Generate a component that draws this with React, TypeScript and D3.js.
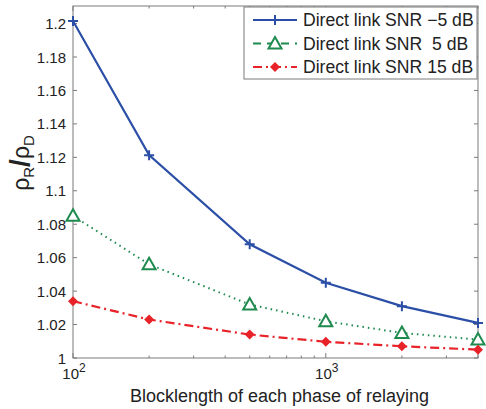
import React, { useEffect, useRef } from 'react';
import * as d3 from 'd3';

const blocklengths = [100, 200, 500, 1000, 2000, 4000];
const snrMinus5 = [1.2015, 1.1213, 1.068, 1.045, 1.031, 1.021];
const snr5 = [1.085, 1.056, 1.032, 1.022, 1.015, 1.011];
const snr15 = [1.034, 1.023, 1.014, 1.0097, 1.007, 1.005];
const seriesNames = ['Direct link SNR \u22125 dB', 'Direct link SNR  5 dB', 'Direct link SNR 15 dB'];
const yTicks = [1, 1.02, 1.04, 1.06, 1.08, 1.1, 1.12, 1.14, 1.16, 1.18, 1.2];
const xMajor = [100, 1000];

export default function App() {
  const width = 486;
  const height = 409;
  const margin = { top: 6, right: 8, bottom: 51, left: 73 };
  const ref = useRef<SVGSVGElement>(null);

  useEffect(() => {
    document.body.style.margin = '0';
    if (!ref.current) return;
    const svg = d3.select(ref.current);
    svg.selectAll('*').remove();

    const x = d3.scaleLog().domain([100, 4000]).range([margin.left, width - margin.right]);
    const y = d3.scaleLinear().domain([1, 1.2105]).range([height - margin.bottom, margin.top]);
    const font = 'Liberation Sans, Arial, sans-serif';
    const axisColor = '#7a7a7a';
    const textColor = '#222';

    const x0 = x.range()[0], x1 = x.range()[1];
    const y0 = y.range()[0], y1 = y.range()[1];

    // box
    svg.append('rect')
      .attr('x', x0).attr('y', y1)
      .attr('width', x1 - x0).attr('height', y0 - y1)
      .attr('fill', 'white').attr('stroke', axisColor).attr('stroke-width', 1);

    // y ticks, inward on both sides
    yTicks.forEach(t => {
      svg.append('line').attr('x1', x0).attr('x2', x0 + 4).attr('y1', y(t)).attr('y2', y(t))
        .attr('stroke', axisColor);
      svg.append('line').attr('x1', x1).attr('x2', x1 - 4).attr('y1', y(t)).attr('y2', y(t))
        .attr('stroke', axisColor);
      svg.append('text').attr('x', x0 - 7).attr('y', y(t) + 5.5)
        .attr('text-anchor', 'end').attr('font-family', font).attr('font-size', 15)
        .attr('fill', textColor).text(d3.format('')(t));
    });

    // x ticks: majors and minors
    const minors: number[] = [];
    for (let d = 100; d < 4000; d *= 10) {
      for (let k = 2; k <= 9; k++) if (d * k <= 4000) minors.push(d * k);
    }
    minors.forEach(t => {
      svg.append('line').attr('x1', x(t)).attr('x2', x(t)).attr('y1', y0).attr('y2', y0 - 2.5).attr('stroke', axisColor);
      svg.append('line').attr('x1', x(t)).attr('x2', x(t)).attr('y1', y1).attr('y2', y1 + 2.5).attr('stroke', axisColor);
    });
    xMajor.forEach(t => {
      svg.append('line').attr('x1', x(t)).attr('x2', x(t)).attr('y1', y0).attr('y2', y0 - 5).attr('stroke', axisColor);
      svg.append('line').attr('x1', x(t)).attr('x2', x(t)).attr('y1', y1).attr('y2', y1 + 5).attr('stroke', axisColor);
      const txt = svg.append('text').attr('x', x(t) + 1).attr('y', y0 + 21)
        .attr('text-anchor', 'middle').attr('font-family', font).attr('font-size', 15).attr('fill', textColor);
      txt.append('tspan').text('10');
      txt.append('tspan').attr('dy', -7).attr('font-size', 12).text(String(Math.round(Math.log10(t))));
    });

    // axis labels
    svg.append('text').attr('x', (x0 + x1) / 2 + 4).attr('y', height - 7)
      .attr('text-anchor', 'middle').attr('font-family', font).attr('font-size', 18).attr('fill', textColor)
      .text('Blocklength of each phase of relaying');

    const yl = svg.append('text')
      .attr('transform', `translate(29, ${(y0 + y1) / 2 - 19}) rotate(-90)`)
      .attr('text-anchor', 'middle').attr('font-family', font).attr('font-size', 23).attr('fill', textColor);
    yl.append('tspan').text('\u03c1');
    yl.append('tspan').attr('font-size', 15).attr('dy', 5).text('R');
    yl.append('tspan').attr('dy', -5).attr('font-size', 28).attr('font-weight', 'bold').text('/');
    yl.append('tspan').text('\u03c1');
    yl.append('tspan').attr('font-size', 15).attr('dy', 5).text('D');

    const series = [
      { values: snrMinus5, color: '#2b4ea6', dash: null as string | null, width: 2.2, marker: 'plus' },
      { values: snr5, color: '#1e8a4e', dash: '1.5,4', width: 2, marker: 'tri' },
      { values: snr15, color: '#e82229', dash: '9,4,2,4', width: 2.2, marker: 'diamond' },
    ];

    const line = d3.line<number>().x((_, i) => x(blocklengths[i])).y(d => y(d));

    const drawMarker = (g: any, kind: string, cx: number, cy: number, color: string) => {
      if (kind === 'plus') {
        g.append('path').attr('d', `M${cx - 5},${cy}H${cx + 5}M${cx},${cy - 5}V${cy + 5}`)
          .attr('stroke', color).attr('stroke-width', 2).attr('fill', 'none');
      } else if (kind === 'tri') {
        g.append('path').attr('d', `M${cx},${cy - 6.5}L${cx + 6.5},${cy + 5}L${cx - 6.5},${cy + 5}Z`)
          .attr('stroke', color).attr('stroke-width', 2).attr('fill', 'white');
      } else {
        g.append('path').attr('d', `M${cx},${cy - 5}L${cx + 5},${cy}L${cx},${cy + 5}L${cx - 5},${cy}Z`)
          .attr('fill', color);
      }
    };

    series.forEach(s => {
      const p = svg.append('path').datum(s.values)
        .attr('d', line).attr('fill', 'none').attr('stroke', s.color).attr('stroke-width', s.width);
      if (s.dash) p.attr('stroke-dasharray', s.dash);
      s.values.forEach((v, i) => drawMarker(svg, s.marker, x(blocklengths[i]), y(v), s.color));
    });

    // legend
    const lx = 244, ly = 7, lw = 233, lh = 72;
    svg.append('rect').attr('x', lx).attr('y', ly).attr('width', lw).attr('height', lh)
      .attr('fill', 'white').attr('stroke', axisColor);
    series.forEach((s, i) => {
      const cy = ly + 13 + i * 23.5;
      const l = svg.append('line').attr('x1', lx + 9).attr('x2', lx + 53).attr('y1', cy).attr('y2', cy)
        .attr('stroke', s.color).attr('stroke-width', s.width);
      if (s.marker === 'tri') l.attr('stroke-dasharray', '8,6');
      else if (s.dash) l.attr('stroke-dasharray', s.dash);
      drawMarker(svg, s.marker, lx + 31, cy, s.color);
      svg.append('text').attr('x', lx + 59).attr('y', cy + 6)
        .attr('font-family', font).attr('font-size', 17.6).attr('fill', textColor)
        .attr('xml:space', 'preserve').style('white-space', 'pre').text(seriesNames[i]);
    });
  }, []);

  return (
    <svg ref={ref} width={width} height={height} style={{ display: 'block', background: 'white' }} />
  );
}
